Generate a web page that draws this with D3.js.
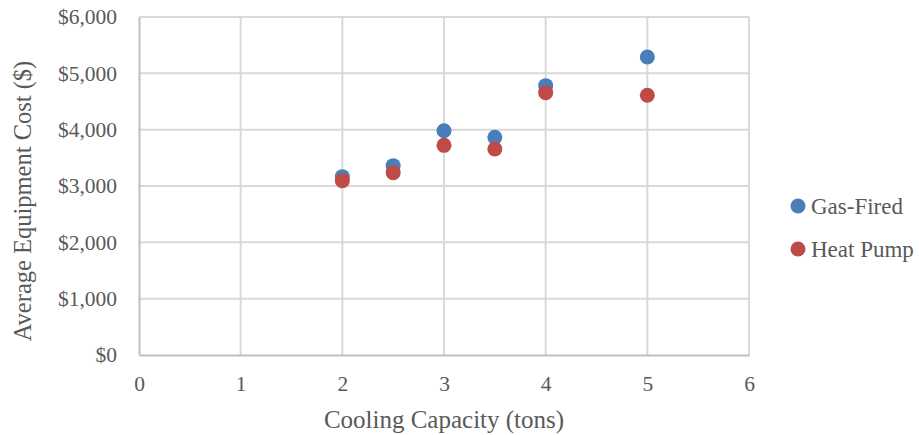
<!DOCTYPE html>
<html>
<head>
<meta charset="utf-8">
<script src="https://cdn.jsdelivr.net/npm/d3@7"></script>
<style>
  body { margin: 0; background: #fff; }
  text { font-family: "Liberation Serif", "DejaVu Serif", serif; fill: #595959; }
</style>
</head>
<body>
<div id="wrapper"></div>
<script>
// data
const capacities = [2, 2.5, 3, 3.5, 4, 5]
const gasFired = [3166, 3361, 3982, 3864, 4781, 5290]
const heatPump = [3095, 3237, 3722, 3657, 4657, 4610]
const seriesNames = ["Gas-Fired", "Heat Pump"]
const seriesColors = ["#4a7ebb", "#be4b48"]
const xTicks = [0, 1, 2, 3, 4, 5, 6]
const yTicks = [0, 1000, 2000, 3000, 4000, 5000, 6000]

function drawScatter() {
  let dimensions = {
    width: 919,
    height: 435,
    margin: { top: 17, right: 170, bottom: 80, left: 139 },
  }
  dimensions.boundedWidth = dimensions.width - dimensions.margin.left - dimensions.margin.right
  dimensions.boundedHeight = dimensions.height - dimensions.margin.top - dimensions.margin.bottom

  const wrapper = d3.select("#wrapper").append("svg")
    .attr("width", dimensions.width)
    .attr("height", dimensions.height)

  const bounds = wrapper.append("g")
    .attr("transform", `translate(${dimensions.margin.left},${dimensions.margin.top})`)

  const xScale = d3.scaleLinear().domain([0, 6]).range([0, dimensions.boundedWidth])
  const yScale = d3.scaleLinear().domain([0, 6000]).range([dimensions.boundedHeight, 0])

  // gridlines
  bounds.append("g").selectAll("line").data(yTicks.slice(1)).join("line")
    .attr("x1", 0).attr("x2", dimensions.boundedWidth)
    .attr("y1", d => yScale(d)).attr("y2", d => yScale(d))
    .attr("stroke", "#d9d9d9").attr("stroke-width", 2)
  bounds.append("g").selectAll("line").data(xTicks.slice(1)).join("line")
    .attr("y1", 0).attr("y2", dimensions.boundedHeight)
    .attr("x1", d => xScale(d)).attr("x2", d => xScale(d))
    .attr("stroke", "#d9d9d9").attr("stroke-width", 2)

  // axes
  const fmt = d => "$" + d3.format(",")(d)
  const yAxis = bounds.append("g")
    .call(d3.axisLeft(yScale).tickValues(yTicks).tickFormat(fmt).tickSize(0).tickPadding(22))
  const xAxis = bounds.append("g")
    .attr("transform", `translate(0,${dimensions.boundedHeight})`)
    .call(d3.axisBottom(xScale).tickValues(xTicks).tickFormat(d3.format("d")).tickSize(0).tickPadding(21))
  ;[yAxis, xAxis].forEach(a => {
    a.select(".domain").attr("stroke", "#bfbfbf").attr("stroke-width", 2)
    a.selectAll("text").style("font-size", "21.5px").attr("fill", "#595959")
  })

  // points
  const series = [gasFired, heatPump]
  series.forEach((vals, i) => {
    bounds.append("g").selectAll("circle").data(capacities).join("circle")
      .attr("cx", d => xScale(d))
      .attr("cy", (d, j) => yScale(vals[j]))
      .attr("r", 7.5)
      .attr("fill", seriesColors[i])
  })

  // axis titles
  wrapper.append("text")
    .attr("x", dimensions.margin.left + dimensions.boundedWidth / 2)
    .attr("y", 428)
    .attr("text-anchor", "middle")
    .style("font-size", "25px")
    .text("Cooling Capacity (tons)")
  wrapper.append("text")
    .attr("transform", `translate(31,201) rotate(-90)`)
    .attr("text-anchor", "middle")
    .style("font-size", "24.5px")
    .text("Average Equipment Cost ($)")

  // legend
  const legend = wrapper.append("g").selectAll("g").data(seriesNames).join("g")
    .attr("transform", (d, i) => `translate(798,${206 + i * 43})`)
  legend.append("circle").attr("r", 7.5).attr("fill", (d, i) => seriesColors[i])
  legend.append("text").attr("x", 13).attr("dy", "0.35em")
    .style("font-size", "23px").text(d => d)
}

drawScatter()
</script>
</body>
</html>
